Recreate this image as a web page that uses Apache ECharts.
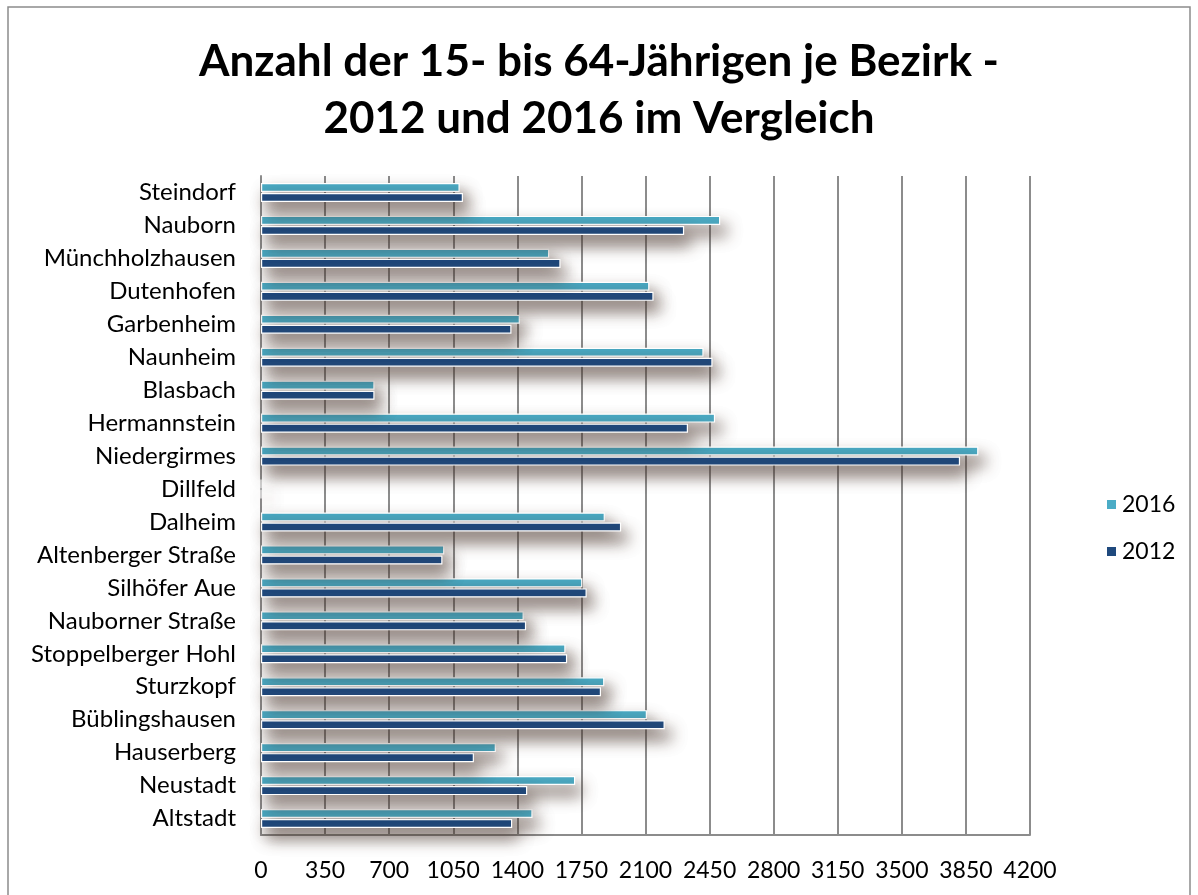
<!DOCTYPE html>
<html>
<head>
<meta charset="utf-8">
<script src="https://cdn.jsdelivr.net/npm/echarts@6/dist/echarts.min.js"></script>
<style>
  html, body { margin: 0; padding: 0; background: #fff; }
  #chart { width: 1198px; height: 895px; }
</style>
</head>
<body>
<div id="chart"></div>
<script>
// Bezirke, von unten nach oben
var bezirke = ["Altstadt", "Neustadt", "Hauserberg", "Büblingshausen", "Sturzkopf",
  "Stoppelberger Hohl", "Nauborner Straße", "Silhöfer Aue", "Altenberger Straße", "Dalheim",
  "Dillfeld", "Niedergirmes", "Hermannstein", "Blasbach", "Naunheim",
  "Garbenheim", "Dutenhofen", "Münchholzhausen", "Nauborn", "Steindorf"];
var werte2016 = [1483, 1716, 1283, 2108, 1875, 1663, 1435, 1755, 1001, 1878,
  0, 3918, 2480, 620, 2417, 1414, 2121, 1574, 2508, 1085];
var werte2012 = [1372, 1454, 1163, 2205, 1857, 1672, 1448, 1779, 991, 1967,
  0, 3818, 2332, 620, 2466, 1368, 2144, 1636, 2311, 1103];
var xTicks = { min: 0, max: 4200, interval: 350 };

var myChart = echarts.init(document.getElementById("chart"));
var font = "Lato, 'Open Sans', sans-serif";

function barStyle(color) {
  return {
    color: color,
    borderColor: "#ffffff",
    borderWidth: 1.2,
    shadowColor: "rgba(70,50,40,0.75)",
    shadowBlur: 16,
    shadowOffsetX: 6,
    shadowOffsetY: 10
  };
}

var option = {
  animation: false,
  backgroundColor: "#ffffff",
  textStyle: { fontFamily: font },
  title: {
    text: "Anzahl der 15- bis 64-Jährigen je Bezirk -\n2012 und 2016 im Vergleich",
    left: "center",
    top: 28,
    textStyle: {
      fontFamily: font,
      fontSize: 44,
      fontWeight: "bold",
      color: "#000",
      lineHeight: 57
    }
  },
  graphic: [{
    type: "rect",
    shape: { x: 8, y: 7, width: 1182, height: 900 },
    style: { fill: "none", stroke: "#8c8c8c", lineWidth: 1.5 },
    silent: true
  }],
  legend: {
    data: ["2016", "2012"],
    orient: "vertical",
    left: 1100,
    top: 488,
    itemWidth: 11,
    itemHeight: 11,
    itemGap: 24,
    icon: "rect",
    textStyle: { fontFamily: font, fontSize: 23, color: "#000" }
  },
  grid: {
    left: 261,
    right: 168,
    top: 176,
    bottom: 60
  },
  xAxis: {
    type: "value",
    min: xTicks.min,
    max: xTicks.max,
    interval: xTicks.interval,
    axisLine: { show: true, lineStyle: { color: "#8c8c8c", width: 2 } },
    axisTick: { show: false },
    axisLabel: {
      fontFamily: font, fontSize: 23, color: "#000", margin: 24,
      formatter: function (v) { return String(v); }
    },
    splitLine: { show: true, lineStyle: { color: "#8c8c8c", width: 2 } }
  },
  yAxis: {
    type: "category",
    data: bezirke,
    axisLine: { show: true, lineStyle: { color: "#8c8c8c", width: 2 } },
    axisTick: { show: false },
    axisLabel: { fontFamily: font, fontSize: 24, color: "#000", margin: 25 }
  },
  series: [
    {
      name: "2016",
      type: "bar",
      data: werte2016,
      barWidth: 9,
      barGap: "12%",
      itemStyle: barStyle("#4bacc6")
    },
    {
      name: "2012",
      type: "bar",
      data: werte2012,
      barWidth: 9,
      barGap: "12%",
      itemStyle: barStyle("#1f497d")
    }
  ]
};
myChart.setOption(option);
</script>
</body>
</html>
